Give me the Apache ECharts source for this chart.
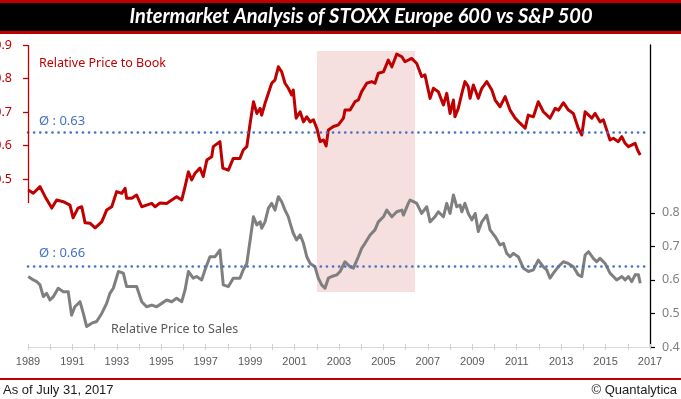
<!DOCTYPE html>
<html><head><meta charset="utf-8">
<script src="https://cdn.jsdelivr.net/npm/echarts@6/dist/echarts.min.js"></script>
<style>html,body{margin:0;padding:0;background:#fff;overflow:hidden}#c{width:681px;height:399px}</style>
</head><body><div id="c"></div>
<script>
// ---- data ----
const titleText = 'Intermarket Analysis of STOXX Europe 600 vs S&P 500';
const footerLeft = 'As of July 31, 2017';
const footerRight = '© Quantalytica';
const pbName = 'Relative Price to Book';
const psName = 'Relative Price to Sales';

const pbDates = [1989.01,1989.24,1989.54,1989.77,1990.07,1990.29,1990.59,1990.89,1991.03,1991.25,1991.42,1991.57,1991.79,1992.02,1992.32,1992.54,1992.77,1992.99,1993.22,1993.37,1993.44,1993.67,1993.89,1994.12,1994.34,1994.57,1994.72,1994.94,1995.24,1995.47,1995.69,1995.92,1996.07,1996.22,1996.37,1996.52,1996.74,1996.89,1997.05,1997.27,1997.34,1997.42,1997.64,1997.77,1998.02,1998.24,1998.54,1998.69,1998.85,1999.00,1999.15,1999.30,1999.45,1999.52,1999.67,1999.82,1999.97,2000.12,2000.27,2000.42,2000.57,2000.72,2000.87,2000.94,2001.07,2001.25,2001.40,2001.55,2001.70,2001.85,2002.00,2002.15,2002.30,2002.42,2002.52,2002.75,2002.97,2003.20,2003.27,2003.50,2003.72,2003.87,2004.02,2004.25,2004.47,2004.62,2004.77,2005.00,2005.22,2005.38,2005.60,2005.83,2005.97,2006.27,2006.50,2006.72,2006.87,2007.10,2007.25,2007.47,2007.70,2007.85,2008.00,2008.15,2008.22,2008.37,2008.53,2008.67,2008.82,2008.90,2009.05,2009.27,2009.43,2009.65,2009.88,2010.03,2010.25,2010.48,2010.70,2010.93,2011.15,2011.38,2011.52,2011.75,2011.97,2012.20,2012.50,2012.73,2012.88,2013.10,2013.33,2013.55,2013.77,2013.93,2014.08,2014.38,2014.53,2014.75,2014.90,2015.05,2015.20,2015.35,2015.57,2015.73,2015.88,2016.03,2016.33,2016.44,2016.56];
const pbValues = [0.468,0.458,0.478,0.448,0.414,0.438,0.433,0.423,0.385,0.414,0.418,0.370,0.369,0.355,0.373,0.408,0.418,0.463,0.458,0.473,0.443,0.443,0.453,0.418,0.423,0.428,0.418,0.429,0.428,0.438,0.448,0.438,0.478,0.522,0.498,0.518,0.533,0.508,0.557,0.567,0.597,0.597,0.612,0.533,0.527,0.562,0.562,0.587,0.597,0.667,0.731,0.696,0.711,0.691,0.726,0.756,0.786,0.796,0.835,0.820,0.786,0.771,0.751,0.766,0.682,0.701,0.671,0.686,0.671,0.677,0.652,0.612,0.617,0.599,0.647,0.657,0.662,0.682,0.706,0.706,0.731,0.736,0.761,0.786,0.791,0.786,0.816,0.820,0.855,0.835,0.873,0.865,0.850,0.860,0.845,0.806,0.811,0.741,0.771,0.761,0.721,0.756,0.696,0.736,0.686,0.711,0.756,0.791,0.776,0.741,0.781,0.741,0.771,0.791,0.766,0.736,0.716,0.746,0.706,0.682,0.667,0.652,0.691,0.686,0.731,0.701,0.682,0.711,0.706,0.728,0.706,0.696,0.652,0.632,0.701,0.682,0.696,0.671,0.677,0.647,0.617,0.622,0.612,0.627,0.607,0.597,0.607,0.587,0.572];

const psDates = [1989.01,1989.24,1989.39,1989.54,1989.69,1989.84,1989.99,1990.14,1990.36,1990.59,1990.81,1990.96,1991.11,1991.34,1991.49,1991.64,1991.87,1992.09,1992.32,1992.54,1992.69,1992.84,1993.07,1993.29,1993.44,1993.67,1993.89,1994.12,1994.34,1994.57,1994.79,1995.02,1995.24,1995.47,1995.69,1995.92,1996.07,1996.22,1996.44,1996.59,1996.82,1996.97,1997.19,1997.42,1997.64,1997.79,1998.02,1998.24,1998.54,1998.69,1998.85,1999.00,1999.15,1999.30,1999.45,1999.52,1999.67,1999.82,1999.97,2000.12,2000.27,2000.42,2000.57,2000.72,2000.80,2000.94,2001.09,2001.25,2001.40,2001.55,2001.70,2001.92,2002.07,2002.22,2002.37,2002.52,2002.67,2002.90,2003.05,2003.27,2003.50,2003.65,2003.87,2004.02,2004.17,2004.40,2004.62,2004.77,2005.00,2005.15,2005.22,2005.38,2005.60,2005.83,2005.90,2006.12,2006.20,2006.35,2006.50,2006.72,2006.95,2007.10,2007.32,2007.47,2007.70,2007.85,2008.00,2008.15,2008.30,2008.45,2008.53,2008.67,2008.82,2008.98,2009.13,2009.27,2009.43,2009.65,2009.80,2010.03,2010.25,2010.40,2010.55,2010.70,2010.85,2011.07,2011.30,2011.53,2011.75,2011.97,2012.20,2012.35,2012.50,2012.65,2012.87,2013.10,2013.32,2013.55,2013.77,2013.93,2014.08,2014.23,2014.45,2014.60,2014.75,2014.98,2015.20,2015.35,2015.50,2015.73,2015.88,2016.03,2016.18,2016.33,2016.48,2016.56];
const psValues = [0.610,0.600,0.595,0.585,0.550,0.560,0.540,0.550,0.575,0.565,0.565,0.495,0.520,0.535,0.500,0.461,0.471,0.476,0.500,0.530,0.560,0.575,0.625,0.620,0.580,0.580,0.580,0.535,0.520,0.525,0.520,0.530,0.540,0.535,0.545,0.535,0.570,0.625,0.605,0.610,0.600,0.630,0.669,0.669,0.689,0.585,0.580,0.605,0.605,0.630,0.649,0.719,0.788,0.764,0.773,0.754,0.773,0.813,0.828,0.808,0.848,0.833,0.808,0.788,0.769,0.739,0.719,0.734,0.709,0.669,0.649,0.639,0.605,0.585,0.575,0.605,0.610,0.615,0.625,0.654,0.639,0.635,0.669,0.694,0.709,0.734,0.749,0.773,0.788,0.808,0.813,0.788,0.803,0.808,0.793,0.828,0.838,0.833,0.828,0.798,0.818,0.773,0.788,0.803,0.788,0.828,0.798,0.853,0.818,0.823,0.803,0.828,0.798,0.779,0.798,0.744,0.773,0.793,0.749,0.729,0.704,0.709,0.679,0.669,0.679,0.669,0.635,0.625,0.630,0.659,0.639,0.630,0.605,0.620,0.639,0.654,0.649,0.639,0.615,0.610,0.674,0.684,0.664,0.654,0.664,0.649,0.620,0.610,0.600,0.610,0.600,0.610,0.595,0.615,0.615,0.590];

const xTickLabels = [1989,1991,1993,1995,1997,1999,2001,2003,2005,2007,2009,2011,2013,2015,2017];
const leftTickLabels = [0.5,0.6,0.7,0.8,0.9];
const rightTickLabels = [0.4,0.5,0.6,0.7,0.8];
const pbAverageLevel = 0.640, pbAverageText = 'Ø : 0.63';
const psAverageLevel = 0.644, psAverageText = 'Ø : 0.66';
const bandFrom = 2002.01, bandTo = 2006.42;       // shaded period (years)
const bandLow = 0.564, bandHigh = 1.282;          // shaded period (right-axis units)
const leftAxisLineFrom = 0.429;                   // left axis line drawn from here to top

const pbData = pbDates.map((d, i) => [d, pbValues[i]]);
const psData = psDates.map((d, i) => [d, psValues[i]]);

const chart = echarts.init(document.getElementById('c'), null, {renderer: 'canvas'});
const FONT = 'Noto Sans';
const option = {
  animation: false,
  backgroundColor: '#ffffff',
  grid: {left: 28, right: 31, top: 45, bottom: 52, containLabel: false, outerBoundsMode: 'none'},
  xAxis: [{
    type: 'value', min: 1989, max: 2017, interval: 1,
    axisLine: {show: true, lineStyle: {color: '#D9D9D9', width: 1}},
    axisTick: {show: true, length: 3, lineStyle: {color: '#D0D0D0'}},
    axisLabel: {customValues: xTickLabels, color: '#595959', fontSize: 11, fontFamily: 'Liberation Sans', margin: 9,
      formatter: v => String(Math.round(v))},
    splitLine: {show: false}
  }, {
    type: 'value', min: 1989, max: 2017, interval: 1, position: 'bottom',
    axisLine: {show: false}, axisTick: {show: true, inside: true, length: 3, lineStyle: {color: '#D0D0D0'}},
    axisLabel: {show: false}, splitLine: {show: false}
  }],
  yAxis: [{
    type: 'value', min: 0, max: 0.9, interval: 0.1, position: 'left',
    axisLine: {show: true, lineStyle: {color: 'rgba(0,0,0,0)', width: 1}},
    axisTick: {show: true, customValues: leftTickLabels, length: 5, lineStyle: {color: '#C00000', width: 1.3}},
    axisLabel: {customValues: leftTickLabels, color: '#C00000', fontSize: 12.5, fontFamily: FONT, margin: 16,
      formatter: v => v.toFixed(1)},
    splitLine: {show: false}
  }, {
    type: 'value', min: 0.4, max: 1.3, interval: 0.1, position: 'right',
    axisLine: {show: true, lineStyle: {color: '#000000', width: 1.3}},
    axisTick: {show: true, customValues: rightTickLabels, length: 5, lineStyle: {color: '#000000', width: 1.2}},
    axisLabel: {customValues: rightTickLabels, color: '#808080', fontSize: 12.5, fontFamily: FONT, margin: 12,
      formatter: v => v.toFixed(1)},
    splitLine: {show: false}
  }],
  series: [{
    name: pbName, type: 'line', xAxisIndex: 0, yAxisIndex: 0, data: pbData,
    showSymbol: false, symbol: 'none', z: 3,
    lineStyle: {color: '#C00000', width: 3, join: 'round'},
    markLine: {
      silent: true, symbol: 'none', label: {show: false}, animation: false,
      data: [
        {yAxis: pbAverageLevel, lineStyle: {color: '#4472C4', width: 2.6, type: [0.1, 6], cap: 'round'}},
        [{coord: [1989, leftAxisLineFrom], lineStyle: {color: '#C00000', width: 1.3, type: 'solid'}}, {coord: [1989, 0.9]}]
      ]
    }
  }, {
    name: psName, type: 'line', xAxisIndex: 0, yAxisIndex: 1, data: psData,
    showSymbol: false, symbol: 'none', z: 3,
    lineStyle: {color: '#7F7F7F', width: 3, join: 'round'},
    markLine: {
      silent: true, symbol: 'none', label: {show: false}, animation: false,
      data: [{yAxis: psAverageLevel, lineStyle: {color: '#4472C4', width: 2.6, type: [0.1, 6], cap: 'round'}}]
    }
  }, {
    name: 'band', type: 'line', xAxisIndex: 0, yAxisIndex: 1, data: [], z: 5, silent: true,
    markArea: {
      silent: true,
      itemStyle: {color: 'rgba(215,127,127,0.25)'},
      data: [[{coord: [bandFrom, bandLow]}, {coord: [bandTo, bandHigh]}]]
    }
  }],
  graphic: [
    {type: 'rect', left: 0, top: 0, shape: {width: 681, height: 34}, style: {fill: '#C00000'}, silent: true},
    {type: 'rect', left: 0, top: 3, shape: {width: 681, height: 28}, style: {fill: '#000000'}, silent: true},
    {type: 'text', x: 361, y: 17, silent: true, style: {text: titleText, fill: '#ffffff', align: 'center', verticalAlign: 'middle',
      font: 'italic bold 20px Lato'}},
    {type: 'rect', left: 0, top: 378, shape: {width: 681, height: 2}, style: {fill: '#C00000'}, silent: true},
    {type: 'text', x: 3, y: 390, silent: true, style: {text: footerLeft, fill: '#1a1a1a', verticalAlign: 'middle', font: '13px "Liberation Sans"'}},
    {type: 'text', x: 677, y: 390, silent: true, style: {text: footerRight, fill: '#1a1a1a', align: 'right', verticalAlign: 'middle', font: '13px "Liberation Sans"'}},
    {type: 'text', x: 39, y: 63, silent: true, style: {text: pbName, fill: '#C00000', verticalAlign: 'middle', font: '12.5px "Noto Sans"'}},
    {type: 'text', x: 111, y: 329, silent: true, style: {text: psName, fill: '#595959', verticalAlign: 'middle', font: '12.5px "Noto Sans"'}},
    {type: 'text', x: 39, y: 121, silent: true, style: {text: pbAverageText, fill: '#4472C4', verticalAlign: 'middle', font: '13px "Noto Sans"'}},
    {type: 'text', x: 39, y: 253, silent: true, style: {text: psAverageText, fill: '#4472C4', verticalAlign: 'middle', font: '13px "Noto Sans"'}}
  ]
};
chart.setOption(option);
</script></body></html>
